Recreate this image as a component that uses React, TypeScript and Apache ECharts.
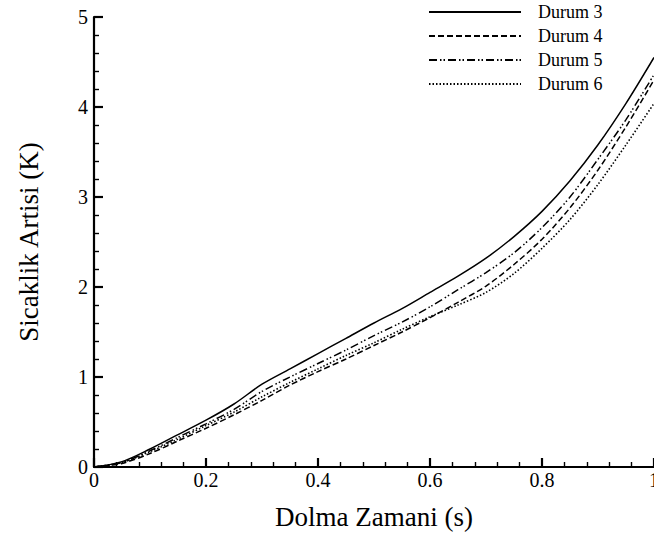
import React, { useEffect, useRef } from "react";
import * as echarts from "echarts";

const xValues = [0, 0.05, 0.1, 0.15, 0.2, 0.25, 0.3, 0.35, 0.4, 0.45, 0.5, 0.55, 0.6, 0.65, 0.7, 0.75, 0.8, 0.85, 0.9, 0.95, 1.0];
const durum3 = [0, 0.06, 0.2, 0.36, 0.52, 0.7, 0.92, 1.09, 1.26, 1.43, 1.6, 1.76, 1.94, 2.12, 2.32, 2.56, 2.84, 3.18, 3.58, 4.04, 4.55];
const durum4 = [0, 0.04, 0.15, 0.29, 0.43, 0.58, 0.74, 0.91, 1.06, 1.2, 1.35, 1.5, 1.66, 1.83, 2.01, 2.25, 2.53, 2.88, 3.3, 3.78, 4.3];
const durum5 = [0, 0.05, 0.18, 0.33, 0.48, 0.64, 0.84, 1.0, 1.15, 1.3, 1.46, 1.61, 1.78, 1.97, 2.16, 2.38, 2.66, 3.0, 3.42, 3.86, 4.36];
const durum6 = [0, 0.05, 0.17, 0.31, 0.46, 0.61, 0.78, 0.94, 1.09, 1.24, 1.38, 1.53, 1.67, 1.8, 1.94, 2.15, 2.43, 2.75, 3.14, 3.58, 4.04];
const seriesNames = ["Durum 3", "Durum 4", "Durum 5", "Durum 6"];
const xTicks = ["0", "0.2", "0.4", "0.6", "0.8", "1"];
const xTitle = "Dolma Zamani (s)";
const yTitle = "Sicaklik Artisi (K)";

const FONT = "Liberation Serif";

export default function App() {
  const ref = useRef<HTMLDivElement>(null);
  useEffect(() => {
    if (!ref.current) return;
    const chart = echarts.init(ref.current, undefined, { renderer: "svg" });
    const allData = [durum3, durum4, durum5, durum6];
    const dashes: any[] = ["solid", [6, 3], [8, 3, 1.5, 2, 1.5, 3], [1.5, 2]];
    const axisCommon = {
      axisLine: { show: true, onZero: false, lineStyle: { color: "#000", width: 2.2, opacity: 1 } },
      axisTick: { show: true, inside: true, length: 9, lineStyle: { color: "#000", width: 2.2, opacity: 1 } },
      minorTick: { show: true, splitNumber: 5, length: 5, lineStyle: { color: "#000", width: 1.4, opacity: 1 } },
      splitLine: { show: false },
      minorSplitLine: { show: false },
    };
    chart.setOption({
      animation: false,
      backgroundColor: "#fff",
      textStyle: { fontFamily: FONT },
      grid: { left: 94, right: 0, top: 17, bottom: 69, outerBoundsMode: "none", containLabel: false },
      legend: {
        orient: "vertical",
        left: 425,
        top: 0,
        padding: 3,
        itemWidth: 92,
        itemHeight: 14,
        itemGap: 6,
        itemStyle: { opacity: 0 },
        textStyle: { fontSize: 18, fontFamily: FONT, color: "#000", padding: [0, 0, 0, 12] },
        data: seriesNames,
      },
      xAxis: {
        type: "value",
        min: 0,
        max: 1,
        interval: 0.2,
        name: xTitle,
        nameLocation: "middle",
        nameGap: 36,
        nameTextStyle: { fontSize: 27, fontFamily: FONT, color: "#000" },
        ...axisCommon,
        axisLabel: {
          fontSize: 20,
          fontFamily: FONT,
          color: "#000",
          margin: 3,
          formatter: (v: number) => xTicks[Math.round(v / 0.2)] ?? "",
        },
      },
      yAxis: {
        type: "value",
        min: 0,
        max: 5,
        interval: 1,
        name: yTitle,
        nameLocation: "middle",
        nameGap: 52,
        nameTextStyle: { fontSize: 27, fontFamily: FONT, color: "#000" },
        ...axisCommon,
        axisLabel: { fontSize: 20, fontFamily: FONT, color: "#000", margin: 6 },
      },
      series: seriesNames.map((name, i) => ({
        name,
        type: "line",
        data: xValues.map((x, j) => [x, allData[i][j]]),
        smooth: 0.3,
        symbol: "none",
        color: "#000",
        lineStyle: { color: "#000", width: i === 3 ? 1.6 : 1.5, type: dashes[i] },
      })),
    });
    return () => chart.dispose();
  }, []);
  return <div ref={ref} style={{ width: 654, height: 536, position: "absolute", left: 0, top: 0 }} />;
}
